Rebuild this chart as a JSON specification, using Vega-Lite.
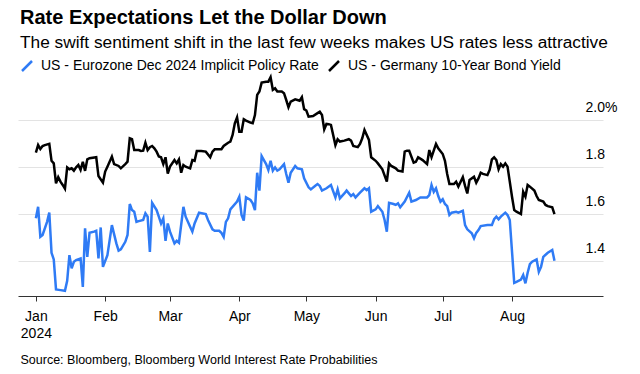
{
  "$schema": "https://vega.github.io/schema/vega-lite/v6.json",
  "width": 585,
  "height": 223,
  "autosize": {"type": "none"},
  "padding": {"left": 18, "top": 73, "right": 37, "bottom": 78},
  "background": "white",
  "config": {"font": "Liberation Sans", "view": {"stroke": null}},
  "title": {
    "text": "Rate Expectations Let the Dollar Down",
    "subtitle": "The swift sentiment shift in the last few weeks makes US rates less attractive",
    "anchor": "start",
    "frame": "group",
    "dx": 2,
    "offset": 8,
    "subtitlePadding": 6,
    "font": "Liberation Sans",
    "subtitleFont": "Liberation Sans",
    "fontSize": 20,
    "fontWeight": "bold",
    "subtitleFontSize": 17.3,
    "color": "#000000",
    "subtitleColor": "#000000"
  },
  "datasets": {
    "eur": [
      {"date": "2024-01-01", "value": 1.581}, {"date": "2024-01-02", "value": 1.630}, {"date": "2024-01-03", "value": 1.502},
      {"date": "2024-01-04", "value": 1.510}, {"date": "2024-01-06", "value": 1.566}, {"date": "2024-01-07", "value": 1.605},
      {"date": "2024-01-08", "value": 1.434}, {"date": "2024-01-09", "value": 1.406}, {"date": "2024-01-10", "value": 1.278},
      {"date": "2024-01-12", "value": 1.275}, {"date": "2024-01-14", "value": 1.272}, {"date": "2024-01-15", "value": 1.315},
      {"date": "2024-01-16", "value": 1.424}, {"date": "2024-01-17", "value": 1.368}, {"date": "2024-01-18", "value": 1.396},
      {"date": "2024-01-19", "value": 1.403}, {"date": "2024-01-21", "value": 1.410}, {"date": "2024-01-22", "value": 1.289},
      {"date": "2024-01-23", "value": 1.538}, {"date": "2024-01-24", "value": 1.417}, {"date": "2024-01-25", "value": 1.519},
      {"date": "2024-01-27", "value": 1.524}, {"date": "2024-01-28", "value": 1.528}, {"date": "2024-01-29", "value": 1.410},
      {"date": "2024-01-30", "value": 1.542}, {"date": "2024-01-31", "value": 1.374}, {"date": "2024-02-02", "value": 1.424},
      {"date": "2024-02-04", "value": 1.552}, {"date": "2024-02-06", "value": 1.474}, {"date": "2024-02-07", "value": 1.443},
      {"date": "2024-02-08", "value": 1.449}, {"date": "2024-02-10", "value": 1.481}, {"date": "2024-02-11", "value": 1.510},
      {"date": "2024-02-12", "value": 1.642}, {"date": "2024-02-13", "value": 1.616}, {"date": "2024-02-14", "value": 1.609},
      {"date": "2024-02-15", "value": 1.566}, {"date": "2024-02-16", "value": 1.569}, {"date": "2024-02-18", "value": 1.574},
      {"date": "2024-02-19", "value": 1.602}, {"date": "2024-02-20", "value": 1.588}, {"date": "2024-02-21", "value": 1.438},
      {"date": "2024-02-22", "value": 1.647}, {"date": "2024-02-24", "value": 1.616}, {"date": "2024-02-25", "value": 1.588},
      {"date": "2024-02-26", "value": 1.559}, {"date": "2024-02-27", "value": 1.581}, {"date": "2024-02-28", "value": 1.485},
      {"date": "2024-02-29", "value": 1.559}, {"date": "2024-03-01", "value": 1.524}, {"date": "2024-03-03", "value": 1.474},
      {"date": "2024-03-04", "value": 1.485}, {"date": "2024-03-05", "value": 1.477}, {"date": "2024-03-07", "value": 1.630},
      {"date": "2024-03-08", "value": 1.588}, {"date": "2024-03-10", "value": 1.545}, {"date": "2024-03-11", "value": 1.524},
      {"date": "2024-03-12", "value": 1.559}, {"date": "2024-03-14", "value": 1.605}, {"date": "2024-03-17", "value": 1.599},
      {"date": "2024-03-18", "value": 1.574}, {"date": "2024-03-20", "value": 1.534}, {"date": "2024-03-21", "value": 1.528},
      {"date": "2024-03-23", "value": 1.528}, {"date": "2024-03-24", "value": 1.519}, {"date": "2024-03-25", "value": 1.502},
      {"date": "2024-03-26", "value": 1.566}, {"date": "2024-03-27", "value": 1.581}, {"date": "2024-03-28", "value": 1.619},
      {"date": "2024-03-31", "value": 1.652}, {"date": "2024-04-01", "value": 1.673}, {"date": "2024-04-02", "value": 1.595},
      {"date": "2024-04-03", "value": 1.571}, {"date": "2024-04-04", "value": 1.670}, {"date": "2024-04-06", "value": 1.659},
      {"date": "2024-04-07", "value": 1.645}, {"date": "2024-04-08", "value": 1.616}, {"date": "2024-04-09", "value": 1.775},
      {"date": "2024-04-10", "value": 1.699}, {"date": "2024-04-11", "value": 1.846}, {"date": "2024-04-12", "value": 1.829},
      {"date": "2024-04-13", "value": 1.812}, {"date": "2024-04-14", "value": 1.787}, {"date": "2024-04-15", "value": 1.826},
      {"date": "2024-04-16", "value": 1.784}, {"date": "2024-04-17", "value": 1.798}, {"date": "2024-04-18", "value": 1.784},
      {"date": "2024-04-19", "value": 1.790}, {"date": "2024-04-21", "value": 1.812}, {"date": "2024-04-22", "value": 1.770},
      {"date": "2024-04-23", "value": 1.733}, {"date": "2024-04-24", "value": 1.775}, {"date": "2024-04-26", "value": 1.804},
      {"date": "2024-04-27", "value": 1.794}, {"date": "2024-04-29", "value": 1.790}, {"date": "2024-04-30", "value": 1.751},
      {"date": "2024-05-02", "value": 1.713}, {"date": "2024-05-03", "value": 1.704}, {"date": "2024-05-05", "value": 1.720},
      {"date": "2024-05-06", "value": 1.727}, {"date": "2024-05-07", "value": 1.719}, {"date": "2024-05-08", "value": 1.699},
      {"date": "2024-05-10", "value": 1.709}, {"date": "2024-05-12", "value": 1.723}, {"date": "2024-05-14", "value": 1.670},
      {"date": "2024-05-15", "value": 1.704}, {"date": "2024-05-16", "value": 1.666}, {"date": "2024-05-18", "value": 1.687},
      {"date": "2024-05-19", "value": 1.699}, {"date": "2024-05-21", "value": 1.676}, {"date": "2024-05-22", "value": 1.684},
      {"date": "2024-05-23", "value": 1.670}, {"date": "2024-05-25", "value": 1.690}, {"date": "2024-05-27", "value": 1.709},
      {"date": "2024-05-28", "value": 1.701}, {"date": "2024-05-29", "value": 1.709}, {"date": "2024-05-30", "value": 1.609},
      {"date": "2024-06-01", "value": 1.619}, {"date": "2024-06-02", "value": 1.633}, {"date": "2024-06-04", "value": 1.609},
      {"date": "2024-06-05", "value": 1.574}, {"date": "2024-06-06", "value": 1.524}, {"date": "2024-06-07", "value": 1.647},
      {"date": "2024-06-09", "value": 1.642}, {"date": "2024-06-10", "value": 1.638}, {"date": "2024-06-11", "value": 1.645},
      {"date": "2024-06-12", "value": 1.628}, {"date": "2024-06-14", "value": 1.652}, {"date": "2024-06-16", "value": 1.690},
      {"date": "2024-06-17", "value": 1.652}, {"date": "2024-06-19", "value": 1.659}, {"date": "2024-06-21", "value": 1.670},
      {"date": "2024-06-24", "value": 1.670}, {"date": "2024-06-25", "value": 1.680}, {"date": "2024-06-26", "value": 1.723},
      {"date": "2024-06-27", "value": 1.694}, {"date": "2024-06-28", "value": 1.709}, {"date": "2024-06-29", "value": 1.676},
      {"date": "2024-06-30", "value": 1.652}, {"date": "2024-07-01", "value": 1.662}, {"date": "2024-07-02", "value": 1.642},
      {"date": "2024-07-03", "value": 1.633}, {"date": "2024-07-04", "value": 1.595}, {"date": "2024-07-05", "value": 1.605},
      {"date": "2024-07-07", "value": 1.609}, {"date": "2024-07-08", "value": 1.605}, {"date": "2024-07-10", "value": 1.613},
      {"date": "2024-07-11", "value": 1.552}, {"date": "2024-07-12", "value": 1.534}, {"date": "2024-07-14", "value": 1.517},
      {"date": "2024-07-15", "value": 1.496}, {"date": "2024-07-16", "value": 1.519}, {"date": "2024-07-17", "value": 1.531},
      {"date": "2024-07-18", "value": 1.548}, {"date": "2024-07-21", "value": 1.552}, {"date": "2024-07-23", "value": 1.552},
      {"date": "2024-07-24", "value": 1.577}, {"date": "2024-07-25", "value": 1.588}, {"date": "2024-07-26", "value": 1.577},
      {"date": "2024-07-27", "value": 1.588}, {"date": "2024-07-29", "value": 1.605}, {"date": "2024-07-30", "value": 1.595},
      {"date": "2024-07-31", "value": 1.574}, {"date": "2024-08-02", "value": 1.306}, {"date": "2024-08-03", "value": 1.310},
      {"date": "2024-08-05", "value": 1.320}, {"date": "2024-08-06", "value": 1.339}, {"date": "2024-08-07", "value": 1.304},
      {"date": "2024-08-08", "value": 1.349}, {"date": "2024-08-09", "value": 1.386}, {"date": "2024-08-10", "value": 1.396},
      {"date": "2024-08-12", "value": 1.406}, {"date": "2024-08-13", "value": 1.353}, {"date": "2024-08-14", "value": 1.374},
      {"date": "2024-08-15", "value": 1.417}, {"date": "2024-08-17", "value": 1.434}, {"date": "2024-08-19", "value": 1.446},
      {"date": "2024-08-20", "value": 1.400}
    ],
    "ger": [
      {"date": "2024-01-01", "value": 1.861}, {"date": "2024-01-02", "value": 1.893}, {"date": "2024-01-03", "value": 1.876},
      {"date": "2024-01-04", "value": 1.889}, {"date": "2024-01-05", "value": 1.893}, {"date": "2024-01-07", "value": 1.898},
      {"date": "2024-01-08", "value": 1.826}, {"date": "2024-01-09", "value": 1.815}, {"date": "2024-01-10", "value": 1.730},
      {"date": "2024-01-11", "value": 1.756}, {"date": "2024-01-12", "value": 1.737}, {"date": "2024-01-13", "value": 1.723},
      {"date": "2024-01-14", "value": 1.707}, {"date": "2024-01-15", "value": 1.798}, {"date": "2024-01-16", "value": 1.790},
      {"date": "2024-01-17", "value": 1.794}, {"date": "2024-01-18", "value": 1.784}, {"date": "2024-01-19", "value": 1.798},
      {"date": "2024-01-20", "value": 1.808}, {"date": "2024-01-21", "value": 1.787}, {"date": "2024-01-22", "value": 1.822},
      {"date": "2024-01-23", "value": 1.783}, {"date": "2024-01-24", "value": 1.832}, {"date": "2024-01-25", "value": 1.837},
      {"date": "2024-01-28", "value": 1.841}, {"date": "2024-01-29", "value": 1.761}, {"date": "2024-01-31", "value": 1.733},
      {"date": "2024-02-01", "value": 1.780}, {"date": "2024-02-02", "value": 1.801}, {"date": "2024-02-04", "value": 1.844},
      {"date": "2024-02-05", "value": 1.812}, {"date": "2024-02-07", "value": 1.804}, {"date": "2024-02-08", "value": 1.794},
      {"date": "2024-02-10", "value": 1.812}, {"date": "2024-02-11", "value": 1.822}, {"date": "2024-02-12", "value": 1.922},
      {"date": "2024-02-13", "value": 1.918}, {"date": "2024-02-14", "value": 1.872}, {"date": "2024-02-16", "value": 1.872},
      {"date": "2024-02-17", "value": 1.868}, {"date": "2024-02-18", "value": 1.869}, {"date": "2024-02-19", "value": 1.903},
      {"date": "2024-02-20", "value": 1.872}, {"date": "2024-02-21", "value": 1.884}, {"date": "2024-02-22", "value": 1.889},
      {"date": "2024-02-23", "value": 1.879}, {"date": "2024-02-24", "value": 1.865}, {"date": "2024-02-25", "value": 1.844},
      {"date": "2024-02-26", "value": 1.841}, {"date": "2024-02-27", "value": 1.812}, {"date": "2024-02-28", "value": 1.841},
      {"date": "2024-02-29", "value": 1.771}, {"date": "2024-03-01", "value": 1.801}, {"date": "2024-03-03", "value": 1.829},
      {"date": "2024-03-04", "value": 1.815}, {"date": "2024-03-05", "value": 1.832}, {"date": "2024-03-06", "value": 1.775},
      {"date": "2024-03-07", "value": 1.808}, {"date": "2024-03-08", "value": 1.801}, {"date": "2024-03-10", "value": 1.794},
      {"date": "2024-03-11", "value": 1.829}, {"date": "2024-03-12", "value": 1.826}, {"date": "2024-03-13", "value": 1.868},
      {"date": "2024-03-15", "value": 1.868}, {"date": "2024-03-17", "value": 1.865}, {"date": "2024-03-19", "value": 1.841},
      {"date": "2024-03-20", "value": 1.865}, {"date": "2024-03-21", "value": 1.875}, {"date": "2024-03-24", "value": 1.875},
      {"date": "2024-03-25", "value": 1.889}, {"date": "2024-03-27", "value": 1.903}, {"date": "2024-03-28", "value": 1.908},
      {"date": "2024-03-29", "value": 1.936}, {"date": "2024-03-30", "value": 1.986}, {"date": "2024-03-31", "value": 2.011},
      {"date": "2024-04-01", "value": 1.950}, {"date": "2024-04-02", "value": 1.950}, {"date": "2024-04-03", "value": 2.003},
      {"date": "2024-04-04", "value": 1.997}, {"date": "2024-04-06", "value": 1.989}, {"date": "2024-04-07", "value": 1.986},
      {"date": "2024-04-08", "value": 2.021}, {"date": "2024-04-09", "value": 2.107}, {"date": "2024-04-10", "value": 2.121},
      {"date": "2024-04-11", "value": 2.159}, {"date": "2024-04-13", "value": 2.163}, {"date": "2024-04-14", "value": 2.163},
      {"date": "2024-04-15", "value": 2.182}, {"date": "2024-04-16", "value": 2.128}, {"date": "2024-04-17", "value": 2.135},
      {"date": "2024-04-18", "value": 2.121}, {"date": "2024-04-20", "value": 2.121}, {"date": "2024-04-21", "value": 2.114},
      {"date": "2024-04-22", "value": 2.085}, {"date": "2024-04-23", "value": 2.054}, {"date": "2024-04-24", "value": 2.078},
      {"date": "2024-04-26", "value": 2.088}, {"date": "2024-04-27", "value": 2.085}, {"date": "2024-04-28", "value": 2.082},
      {"date": "2024-04-29", "value": 2.097}, {"date": "2024-04-30", "value": 2.046}, {"date": "2024-05-01", "value": 2.040},
      {"date": "2024-05-02", "value": 2.014}, {"date": "2024-05-04", "value": 2.017}, {"date": "2024-05-06", "value": 2.029},
      {"date": "2024-05-07", "value": 2.035}, {"date": "2024-05-08", "value": 2.021}, {"date": "2024-05-09", "value": 1.960},
      {"date": "2024-05-10", "value": 1.983}, {"date": "2024-05-11", "value": 1.982}, {"date": "2024-05-12", "value": 1.979},
      {"date": "2024-05-14", "value": 1.893}, {"date": "2024-05-15", "value": 1.918}, {"date": "2024-05-16", "value": 1.908},
      {"date": "2024-05-18", "value": 1.912}, {"date": "2024-05-20", "value": 1.918}, {"date": "2024-05-21", "value": 1.912},
      {"date": "2024-05-22", "value": 1.889}, {"date": "2024-05-24", "value": 1.884}, {"date": "2024-05-25", "value": 1.898},
      {"date": "2024-05-26", "value": 1.922}, {"date": "2024-05-27", "value": 1.957}, {"date": "2024-05-29", "value": 1.915},
      {"date": "2024-05-30", "value": 1.841}, {"date": "2024-06-01", "value": 1.826}, {"date": "2024-06-02", "value": 1.815},
      {"date": "2024-06-04", "value": 1.790}, {"date": "2024-06-06", "value": 1.737}, {"date": "2024-06-07", "value": 1.815},
      {"date": "2024-06-08", "value": 1.804}, {"date": "2024-06-10", "value": 1.794}, {"date": "2024-06-11", "value": 1.784},
      {"date": "2024-06-13", "value": 1.780}, {"date": "2024-06-14", "value": 1.865}, {"date": "2024-06-15", "value": 1.869},
      {"date": "2024-06-16", "value": 1.869}, {"date": "2024-06-18", "value": 1.818}, {"date": "2024-06-19", "value": 1.822},
      {"date": "2024-06-20", "value": 1.841}, {"date": "2024-06-22", "value": 1.829}, {"date": "2024-06-24", "value": 1.812},
      {"date": "2024-06-25", "value": 1.872}, {"date": "2024-06-26", "value": 1.841}, {"date": "2024-06-28", "value": 1.898},
      {"date": "2024-06-29", "value": 1.879}, {"date": "2024-07-01", "value": 1.855}, {"date": "2024-07-02", "value": 1.826},
      {"date": "2024-07-03", "value": 1.770}, {"date": "2024-07-04", "value": 1.727}, {"date": "2024-07-06", "value": 1.727},
      {"date": "2024-07-07", "value": 1.737}, {"date": "2024-07-08", "value": 1.716}, {"date": "2024-07-10", "value": 1.756},
      {"date": "2024-07-11", "value": 1.719}, {"date": "2024-07-12", "value": 1.687}, {"date": "2024-07-13", "value": 1.744},
      {"date": "2024-07-15", "value": 1.758}, {"date": "2024-07-16", "value": 1.733}, {"date": "2024-07-17", "value": 1.751},
      {"date": "2024-07-18", "value": 1.775}, {"date": "2024-07-19", "value": 1.770}, {"date": "2024-07-21", "value": 1.765},
      {"date": "2024-07-22", "value": 1.787}, {"date": "2024-07-23", "value": 1.832}, {"date": "2024-07-24", "value": 1.841},
      {"date": "2024-07-25", "value": 1.829}, {"date": "2024-07-26", "value": 1.790}, {"date": "2024-07-27", "value": 1.812},
      {"date": "2024-07-28", "value": 1.801}, {"date": "2024-07-29", "value": 1.815}, {"date": "2024-07-30", "value": 1.801},
      {"date": "2024-07-31", "value": 1.737}, {"date": "2024-08-01", "value": 1.673}, {"date": "2024-08-02", "value": 1.616},
      {"date": "2024-08-03", "value": 1.609}, {"date": "2024-08-05", "value": 1.599}, {"date": "2024-08-06", "value": 1.694},
      {"date": "2024-08-07", "value": 1.673}, {"date": "2024-08-08", "value": 1.723}, {"date": "2024-08-09", "value": 1.716},
      {"date": "2024-08-11", "value": 1.699}, {"date": "2024-08-12", "value": 1.676}, {"date": "2024-08-13", "value": 1.659},
      {"date": "2024-08-15", "value": 1.652}, {"date": "2024-08-16", "value": 1.638}, {"date": "2024-08-17", "value": 1.633},
      {"date": "2024-08-19", "value": 1.628}, {"date": "2024-08-20", "value": 1.599}
    ]
  },
  "encoding": {
    "x": {
      "field": "date",
      "type": "temporal",
      "scale": {
        "type": "utc",
        "domain": [
          {"year": 2023, "month": 12, "date": 24, "utc": true},
          {"year": 2024, "month": 9, "date": 10, "hours": 17, "utc": true}
        ]
      },
      "axis": {
        "values": [
          {"year": 2024, "month": 1, "date": 1, "utc": true},
          {"year": 2024, "month": 2, "date": 1, "utc": true},
          {"year": 2024, "month": 3, "date": 1, "utc": true},
          {"year": 2024, "month": 4, "date": 1, "utc": true},
          {"year": 2024, "month": 5, "date": 1, "utc": true},
          {"year": 2024, "month": 6, "date": 1, "utc": true},
          {"year": 2024, "month": 7, "date": 1, "utc": true},
          {"year": 2024, "month": 8, "date": 1, "utc": true}
        ],
        "labelExpr": "utcmonth(datum.value) == 0 ? [utcFormat(datum.value, '%b'), utcFormat(datum.value, '%Y')] : utcFormat(datum.value, '%b')",
        "grid": false,
        "domainColor": "#333333",
        "domainWidth": 1,
        "tickColor": "#333333",
        "tickSize": 5,
        "tickWidth": 1,
        "labelFont": "Liberation Sans",
        "labelFontSize": 14,
        "labelColor": "#000000",
        "labelPadding": 8,
        "labelBaseline": "top",
        "labelLineHeight": 17,
        "labelFlush": false,
        "labelOverlap": false,
        "title": "Source: Bloomberg, Bloomberg World Interest Rate Probabilities",
        "titleFont": "Liberation Sans",
        "titleFontSize": 12.5,
        "titleFontWeight": "normal",
        "titleColor": "#000000",
        "titleAnchor": "start",
        "titleAlign": "left",
        "titleBaseline": "alphabetic",
        "titleX": 2,
        "titleY": 67
      }
    },
    "y": {
      "field": "value",
      "type": "quantitative",
      "scale": {"domain": [1.25, 2.2], "nice": false, "zero": false},
      "axis": {
        "orient": "right",
        "values": [1.4, 1.6, 1.8, 2.0],
        "labelExpr": "datum.value >= 1.99 ? '2.0%' : format(datum.value, '.1f')",
        "grid": true,
        "gridColor": "#e3e3e3",
        "gridWidth": 1,
        "domain": false,
        "ticks": false,
        "tickSize": 0,
        "labelFont": "Liberation Sans",
        "labelFontSize": 14,
        "labelColor": "#000000",
        "labelAlign": "left",
        "labelBaseline": "alphabetic",
        "labelPadding": -18,
        "labelOffset": -8,
        "title": null
      }
    }
  },
  "layer": [
    {
      "data": {"name": "eur"},
      "mark": {"type": "line", "strokeWidth": 2.5},
      "encoding": {
        "color": {
          "datum": "US - Eurozone Dec 2024 Implicit Policy Rate",
          "type": "nominal",
          "scale": {
            "domain": ["US - Eurozone Dec 2024 Implicit Policy Rate", "US - Germany 10-Year Bond Yield"],
            "range": ["#2f7bf5", "#000000"]
          },
          "legend": {
            "orient": "none",
            "legendX": 2,
            "legendY": -14,
            "direction": "horizontal",
            "title": null,
            "symbolType": "M-1,1L1,-1",
            "symbolSize": 100,
            "symbolStrokeWidth": 2.5,
            "labelFont": "Liberation Sans",
            "labelFontSize": 14,
            "labelColor": "#000000",
            "labelLimit": 400,
            "labelOffset": 7,
            "columnPadding": 5
          }
        }
      }
    },
    {
      "data": {"name": "ger"},
      "mark": {"type": "line", "strokeWidth": 2.5},
      "encoding": {
        "color": {"datum": "US - Germany 10-Year Bond Yield", "type": "nominal"}
      }
    }
  ]
}
